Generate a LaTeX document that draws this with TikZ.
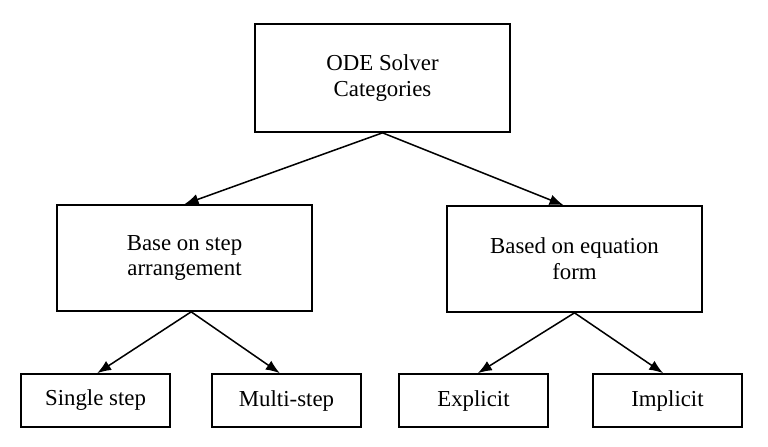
\documentclass[tikz,border=0pt]{standalone}
\usepackage{fontspec}
\setmainfont{Liberation Serif}
\usetikzlibrary{arrows.meta}
\tikzset{
  catbox/.style={draw=black,line width=1.4pt,align=center,inner sep=2pt,
    font=\fontsize{19.5}{22}\selectfont},
  bigbox/.style={catbox,minimum width=7.65cm,minimum height=3.18cm},
  leafbox/.style={catbox,minimum width=4.47cm,minimum height=1.59cm},
  branch/.style={line width=1.3pt,-{Latex[length=0.42cm,width=0.32cm]}}
}
\begin{document}
\begin{tikzpicture}[x=0.03cm,y=-0.03cm]
\useasboundingbox (0,0) rectangle (768,446);
% levels
\node[bigbox,minimum height=3.24cm] (root) at (382.5,78) {ODE Solver\\Categories};
\node[bigbox] (step) at (184.5,258) {Base on step\\arrangement};
\node[bigbox] (form) at (574.5,259) {Based on equation\\form};
\node[leafbox] (single) at (95.5,400.5) {Single step};
\node[leafbox] (multi) at (286.5,400.5) {Multi-step};
\node[leafbox] (expl) at (473.5,400.5) {Explicit};
\node[leafbox] (impl) at (667.5,400.5) {Implicit};
% connectors
\draw[branch] (root.south) -- (step.north);
\draw[branch] (root.south) -- ([xshift=-0.33cm]form.north);
\draw[branch] ([xshift=0.2cm]step.south) -- ([xshift=0.05cm]single.north);
\draw[branch] ([xshift=0.2cm]step.south) -- ([xshift=-0.2cm]multi.north);
\draw[branch] (form.south) -- ([xshift=0.13cm]expl.north);
\draw[branch] (form.south) -- ([xshift=-0.13cm]impl.north);
\end{tikzpicture}
\end{document}
